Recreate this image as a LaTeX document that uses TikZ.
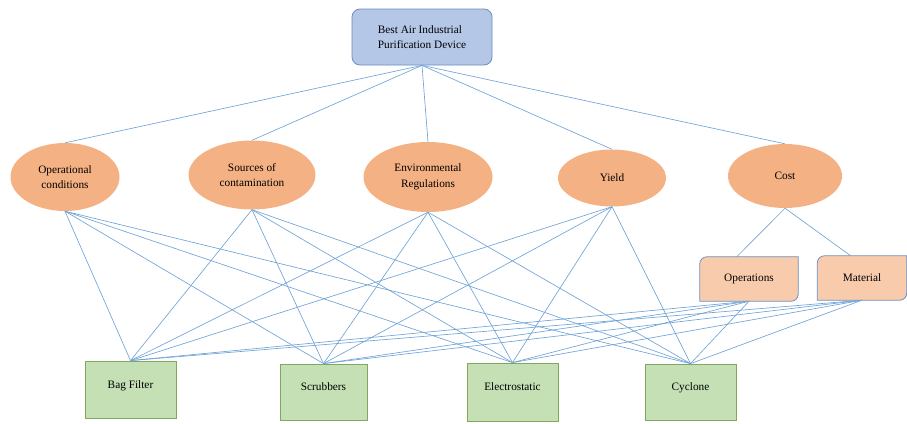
\documentclass[tikz,border=0pt]{standalone}
\usepackage{fontspec}
\setmainfont{Liberation Serif}
\usetikzlibrary{shapes.geometric,backgrounds}
\definecolor{topfill}{HTML}{B4C7E7}
\definecolor{topline}{HTML}{6C8EBF}
\definecolor{critfill}{HTML}{F4B183}
\definecolor{subfill}{HTML}{F8CBAD}
\definecolor{altfill}{HTML}{C5E0B4}
\definecolor{altline}{HTML}{82A860}
\definecolor{linkcol}{HTML}{6FA3D8}

\tikzset{
  goal/.style={rectangle, draw=topline, fill=topfill, rounded corners=8pt, line width=0.8pt, align=left},
  crit/.style={ellipse, fill=critfill, inner sep=0pt, align=center},
  sub/.style={rectangle, inner sep=0pt},
  subline/.style={draw=topline, fill=subfill, line width=0.8pt},
  alt/.style={rectangle, draw=altline, fill=altfill, line width=0.8pt, text depth=10pt},
  link/.style={draw=linkcol, line width=0.65pt}
}

\begin{document}
\begin{tikzpicture}[x=1pt, y=-1pt, font=\fontsize{11.3}{15.5}\selectfont]
      \useasboundingbox (0,0) rectangle (907,423);

      \node (G) [goal, minimum width=140pt, minimum height=56pt] at (422,37) {
        Best Air Industrial\\Purification Device};

      \node (opc) [crit, minimum width=109pt, minimum height=68pt] at (65,177) {Operational\\conditions};
      \node (src) [crit, minimum width=127pt, minimum height=69pt] at (252,175) {Sources of\\contamination};
      \node (env) [crit, minimum width=129pt, minimum height=70pt] at (428,177) {Environmental\\Regulations};
      \node (yld) [crit, minimum width=108pt, minimum height=57pt] at (612,178) {Yield};
      \node (cst) [crit, minimum width=114pt, minimum height=64pt] at (785,176) {Cost};

      \node (ops) [sub, minimum width=98pt, minimum height=44pt] at (749,279) {Operations};
      \node (mat) [sub, minimum width=89pt, minimum height=44pt] at (862,278) {Material};
      \begin{scope}[on background layer]
        \foreach \n in {ops,mat}
          \draw[subline] (\n.west) [rounded corners=7pt] -- (\n.north west) -- (\n.north)
            [sharp corners] -- (\n.north east) -- (\n.east)
            [rounded corners=7pt] -- (\n.south east) -- (\n.south)
            [sharp corners] -- (\n.south west) -- cycle;
      \end{scope}

      \node (bag) [alt, minimum width=91pt, minimum height=57pt] at (130.5,389.5) {Bag Filter};
      \node (scr) [alt, minimum width=87pt, minimum height=56pt] at (323.5,392) {Scrubbers};
      \node (ele) [alt, minimum width=91pt, minimum height=58pt] at (512.5,392) {Electrostatic};
      \node (cyc) [alt, minimum width=91pt, minimum height=56pt] at (690.5,392) {Cyclone};

      \foreach \c in {opc,src,env,yld,cst}
        \draw[link] (G.south) -- (\c.north);
      \draw[link] (cst.south) -- (ops.119);
      \draw[link] (cst.south) -- (mat.117);
      \foreach \c in {opc,src,env,yld,ops,mat}
        \foreach \a in {bag,scr,ele,cyc}
          \draw[link] (\c.south) -- (\a.north);
\end{tikzpicture}
\end{document}
